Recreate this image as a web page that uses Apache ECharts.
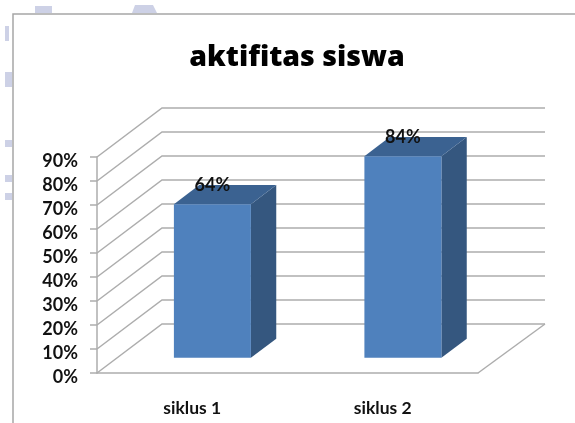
<!DOCTYPE html>
<html>
<head>
<meta charset="utf-8">
<style>
    html, body { margin: 0; padding: 0; background: #fff; }
    #chart { width: 575px; height: 423px; filter: blur(0.4px); }
</style>
<script src="https://cdn.jsdelivr.net/npm/echarts@6/dist/echarts.min.js"></script>
</head>
<body>
<div id="chart"></div>
<script>
const categories = ['siklus 1', 'siklus 2'];
const values = [64, 84];
const wallTicks = [0, 10, 20, 30, 40, 50, 60, 70, 80, 90];

// 3D look: how far the back wall sits from the front plane, in px
const DEPTH_X = 65;
const DEPTH_Y = 49;
const BAR_NEAR = 0.31;
const BAR_FAR = 0.70;
const BAR_WIDTH = 77;
const GRAY = '#adadad';
const SCRAP = '#cdd1e6';

const chart = echarts.init(document.getElementById('chart'), null, { renderer: 'canvas' });

function renderWall(params, api) {
    const left = params.coordSys.x;
    const right = left + params.coordSys.width;
    const y = api.coord([0, api.value(0)])[1];
    const style = { stroke: GRAY, lineWidth: 1.5, fill: null };
    const children = [
        { type: 'polyline', shape: { points: [[left, y], [left + DEPTH_X, y - DEPTH_Y], [right + DEPTH_X + 2, y - DEPTH_Y]] }, style }
    ];
    // floor closes at the front right corner
    if (api.value(0) === 0) {
        children.push({ type: 'line', shape: { x1: right, y1: y, x2: right + DEPTH_X + 2, y2: y - DEPTH_Y }, style });
    }
    return { type: 'group', children };
}

function renderBar(params, api) {
    const base = api.coord([api.value(0), 0]);
    const top = api.coord([api.value(0), api.value(1)]);
    const cx = base[0] + DEPTH_X * BAR_NEAR;
    const x0 = cx - BAR_WIDTH / 2;
    const x1 = cx + BAR_WIDTH / 2;
    const y0 = base[1] - DEPTH_Y * BAR_NEAR;
    const y1 = top[1] - DEPTH_Y * BAR_NEAR;
    const dx = DEPTH_X * (BAR_FAR - BAR_NEAR);
    const dy = DEPTH_Y * (BAR_FAR - BAR_NEAR);
    return {
        type: 'group',
        children: [
            { type: 'polygon', shape: { points: [[x1, y1], [x1 + dx, y1 - dy], [x1 + dx, y0 - dy], [x1, y0]] }, style: { fill: '#35577f' } },
            { type: 'polygon', shape: { points: [[x0, y1], [x0 + dx, y1 - dy], [x1 + dx, y1 - dy], [x1, y1]] }, style: { fill: '#3b6291' } },
            { type: 'rect', shape: { x: x0, y: y1, width: BAR_WIDTH, height: y0 - y1 }, style: { fill: '#4f81bd' } },
            {
                type: 'text',
                x: cx,
                y: y1 - 19,
                style: {
                    text: api.value(1) + '%',
                    fill: '#111',
                    font: '700 18px Lato',
                    align: 'center',
                    verticalAlign: 'middle'
                }
            }
        ]
    };
}

const option = {
    animation: false,
    backgroundColor: '#fff',
    title: {
        text: 'aktifitas siswa',
        left: 292,
        top: 38,
        textAlign: 'center',
        textStyle: { fontFamily: 'Open Sans', fontWeight: 800, fontSize: 28.5, color: '#000' }
    },
    grid: { left: 97, right: 97, top: 157, bottom: 50 },
    xAxis: {
        type: 'category',
        data: categories,
        axisLine: { lineStyle: { color: GRAY, width: 1.5 } },
        axisTick: { length: 7, lineStyle: { color: GRAY, width: 1.5 } },
        axisLabel: { color: '#111', fontFamily: 'Lato', fontWeight: 700, fontSize: 17.5, margin: 26 }
    },
    yAxis: {
        type: 'value',
        min: 0,
        max: 90,
        interval: 10,
        axisLine: { show: true, lineStyle: { color: GRAY, width: 1.5 } },
        axisTick: { show: true, length: 7, lineStyle: { color: GRAY, width: 1.5 } },
        splitLine: { show: false },
        axisLabel: { formatter: '{value}%', color: '#111', fontFamily: 'Lato', fontWeight: 700, fontSize: 18, margin: 19, verticalAlign: 'top', lineHeight: 8 }
    },
    series: [
        {
            type: 'custom',
            renderItem: renderWall,
            data: wallTicks.map(v => [v]),
            encode: { y: 0 },
            silent: true,
            z: 1
        },
        {
            type: 'custom',
            renderItem: renderBar,
            data: values.map((v, i) => [i, v]),
            encode: { x: 0, y: 1 },
            z: 3
        }
    ],
    graphic: [
        // frame of the pasted chart and the scraps of page behind it
        { type: 'polyline', shape: { points: [[13, 423], [13, 14], [575, 14]] }, style: { stroke: '#a6a6a6', lineWidth: 1.5, fill: null } },
        { type: 'rect', shape: { x: 35, y: 6, width: 17, height: 7 }, style: { fill: SCRAP } },
        { type: 'polygon', shape: { points: [[132, 13], [135, 5], [153, 5], [157, 13]] }, style: { fill: SCRAP } },
        { type: 'rect', shape: { x: 5, y: 26, width: 4, height: 15 }, style: { fill: SCRAP } },
        { type: 'rect', shape: { x: 5, y: 72, width: 7, height: 15 }, style: { fill: SCRAP } },
        { type: 'rect', shape: { x: 5, y: 140, width: 7, height: 7 }, style: { fill: SCRAP } },
        { type: 'rect', shape: { x: 5, y: 175, width: 7, height: 7 }, style: { fill: SCRAP } },
        { type: 'rect', shape: { x: 5, y: 193, width: 7, height: 7 }, style: { fill: SCRAP } }
    ]
};

chart.setOption(option);
</script>
</body>
</html>
